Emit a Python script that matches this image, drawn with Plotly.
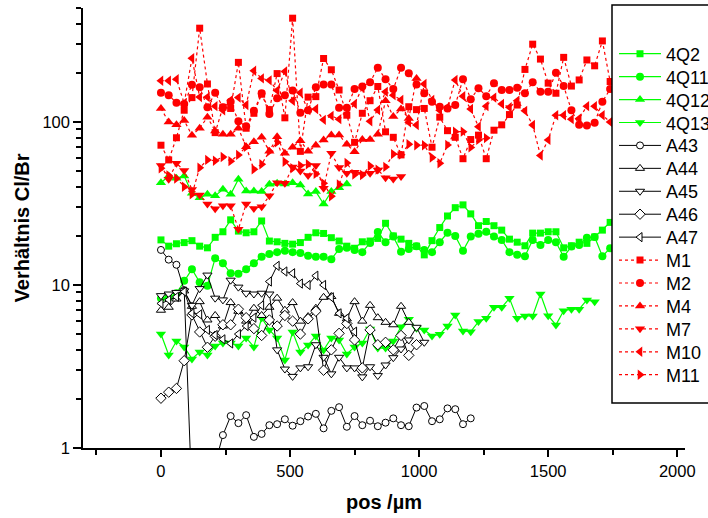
import plotly.graph_objects as go

STEP = 30  # sampling step along the profile, µm

# ---- data (ratio Cl/Br), one value per 30 µm step starting at 0 µm ----
q2 = [18.9, 17.3, 17.9, 18.2, 18.7, 17.3, 16.9, 19.6, 21.2, 25.1, 21.4, 20.9, 21.2, 24.7, 18.6,
      18.4, 18.0, 17.8, 18.2, 19.6, 20.9, 20.7, 19.5, 18.6, 17.3, 16.8, 18.4, 18.6, 19.3,
      23.9, 20.0, 19.1, 18.0, 17.3, 15.3, 18.7, 22.5, 26.5, 29.8, 31.0, 27.3, 23.1, 24.5, 23.1,
      21.7, 19.1, 18.3, 17.4, 20.8, 20.8, 21.2, 21.2, 16.9, 17.4, 18.3, 18.0, 19.7, 21.7, 24.2,
      25.0, 23.5]
q11 = [8.3, 8.4, 8.9, 10.6, 12.5, 10.4, 9.9, 14.6, 13.6, 11.8, 11.7, 12.5, 13.6, 14.9, 15.5,
       15.9, 16.2, 15.9, 15.7, 15.1, 14.9, 14.9, 14.4, 16.6, 16.9, 16.4, 15.9, 18.1, 21.1,
       18.3, 19.8, 16.0, 16.6, 17.3, 16.4, 15.9, 18.3, 20.9, 20.0, 16.2, 19.8, 20.6, 21.2, 19.8,
       18.9, 15.9, 15.3, 15.0, 18.9, 17.6, 18.9, 18.3, 14.9, 17.2, 17.6, 19.5, 19.7, 15.0, 16.8,
       20.0, 22.0]
q12 = [42.4, 46.6, 45.2, 46.6, 36.5, 34.3, 36.0, 35.2, 38.6, 36.0, 44.5, 37.7, 37.7, 37.4, 41.5,
       42.1, 41.7, 42.4, 41.1, 36.2, 37.4, 31.4, 37.4, 39.5, 41.7]
q13 = [5.0, 3.72, 4.53, 4.17, 3.52, 3.88, 3.72, 4.23, 4.41, 4.4, 4.23, 4.73, 4.17, 6.28, 5.3,
       4.73, 3.47, 5.15, 3.88, 4.28, 4.87, 3.99, 4.73, 4.6, 3.77, 4.17, 4.41, 5.37, 4.1,
       4.1, 4.53, 5.55, 6.16, 5.42, 5.3, 4.87, 4.98, 5.6, 6.55, 5.22, 5.17, 5.96, 6.24, 7.29,
       7.29, 8.28, 6.24, 6.45, 6.45, 8.81, 6.48, 5.69, 6.95, 7.1, 7.1, 8.09, 7.9]
a43 = [16.4, 14.3, 13.3, 9.3, 0.5, 0.4, 0.45, 0.8, 1.20, 1.57, 1.42, 1.59, 1.17, 1.22, 1.38,
       1.40, 1.50, 1.37, 1.46, 1.56, 1.62, 1.32, 1.69, 1.78, 1.35, 1.57, 1.38, 1.47, 1.36, 1.43,
       1.52, 1.38, 1.36, 1.77, 1.81, 1.46, 1.50, 1.75, 1.73, 1.40, 1.52]
a44 = [7.0, 7.3, 8.2, 9.2, 7.4, 7.9, 6.1, 6.5, 5.6, 7.8, 6.9, 6.0, 7.2, 6.5, 7.3, 8.3, 7.0,
       7.8, 6.0, 6.4, 7.2, 8.4, 8.5, 6.7, 6.2, 7.9, 6.0, 7.5, 6.3, 5.9, 5.7, 7.4, 5.9]
a45 = [8.6, 8.8, 9.0, 9.2, 7.5, 9.5, 11.5, 8.3, 8.1, 10.7, 9.7, 8.9, 8.8, 8.9, 8.8, 4.0, 3.05,
       2.75, 3.1, 3.15, 4.3, 3.6, 2.85, 3.6, 3.1, 3.1, 2.73, 3.15, 2.78, 3.23, 3.58, 4.05, 4.6,
       5.5, 4.45]
a46 = [2.02, 2.2, 2.32, 3.43, 6.55, 5.15, 4.15, 4.85, 5.7, 5.7, 7.1, 6.3, 5.4, 4.9, 6.1, 5.6,
       6.5, 6.0, 5.0, 6.2, 6.9, 3.0, 4.0, 5.05, 5.8, 4.6, 3.1, 5.3, 4.3, 4.45, 4.0, 4.9, 3.7, 4.3]
a47 = [7.7, 8.1, 8.45, 9.1, 6.7, 6.6, 5.3, 4.93, 4.64, 4.38, 5.0, 5.6, 6.3, 7.5, 10.5, 13.1,
       12.1, 11.8, 10.2, 10.0, 11.4, 10.0, 8.4, 6.7, 6.25, 5.17]
m1 = [72, 58.5, 80, 118, 141, 376, 171, 86, 123, 121, 232, 91.5, 113, 148, 119, 198, 106, 433,
      66, 142, 143, 245, 209, 157, 110, 75, 113, 135, 165, 87, 80.5, 62.8, 124, 119, 121, 70,
      107, 88.4, 80.5, 59.5, 78, 83, 59.5, 89, 96, 111, 127, 210, 300, 243, 173, 150, 249, 166,
      181, 240, 221, 314, 177]
m2 = [151, 146, 131, 129, 169, 163, 123, 151, 123, 133, 101, 94, 117, 150, 112, 140, 146, 156,
      114, 118, 163, 170, 170, 122, 122, 159, 165, 175, 215, 183, 159, 215, 199, 170, 150, 133,
      124, 121, 127, 183, 138, 161, 144, 173, 157, 157, 162, 150, 175, 153, 153, 200, 166, 118,
      96, 95, 99, 133, 159]
m4 = [121, 100, 96, 102, 83, 91.5, 107, 88, 84, 84, 91.5, 70.5, 75.7, 80.5, 66, 81, 64.3, 70,
      76.8, 66, 72, 77.6, 83.2, 83.2, 73, 65.7, 78, 78, 84, 135, 108, 120, 105, 185]
m7 = [54, 44.5, 55.8, 50.3, 38.5, 35.6, 31.4, 29.3, 30.6, 30.6, 22, 31.4, 29.5, 30.2, 35.3,
      42.4, 42, 53, 50, 46.9, 54, 39.2, 64.3, 52.5, 48.4, 49.1, 48, 48.4, 50.8, 45.5, 44.7, 46.2]
m10 = [179, 179, 183, 130, 246, 142, 142, 125, 118, 136, 141, 127, 206, 185, 180, 156, 204, 135,
       151, 118.5, 120, 103, 109, 104, 112, 129, 162, 101, 118.5, 153, 146, 136.5, 99.6, 95.8,
       171, 136.5, 118, 123, 181, 144, 120, 93.6, 125, 141, 129, 123, 135, 117, 95.8, 62.3,
       77.6, 110, 110, 104, 105, 125, 125, 110, 100]
m11 = [52, 47, 45, 40, 36, 52.4, 58.5, 57.8, 61, 57.5, 62.8, 70.5, 51.2, 55, 66, 75, 57, 52, 54,
       55, 48, 42, 35, 41.4, 56, 47.6, 47.3, 53.7, 51, 53, 63.5, 63, 73, 72, 72, 60.5, 55.8,
       72.3, 87.2, 87.2, 69.8, 77.6, 79.6]

names = ["4Q2", "4Q11", "4Q12", "4Q13", "A43", "A44", "A45", "A46", "A47",
         "M1", "M2", "M4", "M7", "M10", "M11"]
values = [q2, q11, q12, q13, a43, a44, a45, a46, a47, m1, m2, m4, m7, m10, m11]

x_ticks = [0, 500, 1000, 1500, 2000]
x_minor = [-250, 250, 750, 1250, 1750]
y_ticks = [1, 10, 100]
y_ticktext = ["1", "10", "100"]
y_minor = [2, 3, 4, 5, 6, 7, 8, 9, 20, 30, 40, 50, 60, 70, 80, 90, 200, 300, 400, 500]

# ---- styles ----
GREEN = "#00ff00"
RED = "#ff0000"
styles = {
    "4Q2": ("square", GREEN, "solid", 7),
    "4Q11": ("circle", GREEN, "solid", 8),
    "4Q12": ("triangle-up", GREEN, "solid", 9),
    "4Q13": ("triangle-down", GREEN, "solid", 9),
    "A43": ("circle", "open", "solid", 7),
    "A44": ("triangle-up", "open", "solid", 8),
    "A45": ("triangle-down", "open", "solid", 8),
    "A46": ("diamond", "open", "solid", 8),
    "A47": ("triangle-left", "open", "solid", 8),
    "M1": ("square", RED, "dot", 7),
    "M2": ("circle", RED, "dot", 8),
    "M4": ("triangle-up", RED, "dot", 9),
    "M7": ("triangle-down", RED, "dot", 9),
    "M10": ("triangle-left", RED, "dot", 9),
    "M11": ("triangle-right", RED, "dot", 9),
}

FONT = "Liberation Sans, Arial, sans-serif"
W, H = 708, 518
ML, MR, MT, MB = 83, 23, 8, 70
PW, PH = W - ML - MR, H - MT - MB

def px_to_paper(px, py):
    return (px - ML) / PW, (H - MB - py) / PH

fig = go.Figure()
legend_layouts = {}
for k, (name, vals) in enumerate(zip(names, values)):
    sym, col, dash, size = styles[name]
    xs = [STEP * i for i in range(len(vals))]
    lg = "legend" if k == 0 else f"legend{k + 1}"
    if col == "open":
        marker = dict(symbol=sym, size=size, color="white", line=dict(color="black", width=1))
        line = dict(color="black", width=1)
    else:
        marker = dict(symbol=sym, size=size, color=col, line=dict(width=0))
        line = dict(color=col, width=1.2, dash=dash)
    fig.add_trace(go.Scatter(x=xs, y=vals, name=name, mode="lines+markers",
                             marker=marker, line=line, legend=lg, cliponaxis=True))
    lx, ly = px_to_paper(614, 54 + k * 22.93)
    legend_layouts[lg] = dict(x=lx, xanchor="left", y=ly, yanchor="middle",
                              bgcolor="rgba(0,0,0,0)", borderwidth=0, itemwidth=42,
                              font=dict(family=FONT, size=18, color="black"))

bx0, by0 = px_to_paper(612, 403)
bx1, by1 = px_to_paper(730, 5)
fig.add_shape(type="rect", xref="paper", yref="paper", x0=bx0, x1=bx1, y0=by0, y1=by1,
              line=dict(color="black", width=1.5), fillcolor="white", layer="above")

fig.update_layout(
    width=W, height=H,
    margin=dict(l=ML, r=MR, t=MT, b=MB, autoexpand=False),
    paper_bgcolor="white", plot_bgcolor="white",
    font=dict(family=FONT, size=16.5, color="black"),
    showlegend=True,
    **legend_layouts,
)
fig.update_xaxes(
    range=[-302, 2030], showgrid=False, zeroline=False,
    showline=True, linecolor="black", linewidth=1.5,
    ticks="outside", ticklen=7, tickwidth=1.5, tickcolor="black",
    tickvals=x_ticks, tickfont=dict(family=FONT, size=16.5),
    minor=dict(tickvals=x_minor, ticks="outside", ticklen=5,
               tickwidth=1.5, tickcolor="black"),
    title=dict(text="<b>pos /µm</b>", font=dict(family=FONT, size=20), standoff=16),
)
fig.update_yaxes(
    type="log", range=[0, 2.69897], showgrid=False, zeroline=False,
    showline=True, linecolor="black", linewidth=1.5,
    ticks="outside", ticklen=8, tickwidth=1.5, tickcolor="black",
    tickvals=y_ticks, ticktext=y_ticktext, tickfont=dict(family=FONT, size=16.5),
    minor=dict(tickvals=y_minor, ticks="outside", ticklen=5, tickwidth=1.5, tickcolor="black"),
    title=dict(text="<b>Verhältnis Cl/Br</b>", font=dict(family=FONT, size=20), standoff=7),
)

fig.write_html(
    "out.html",
    config={"displayModeBar": False},
    post_script="document.body.style.margin='0';document.body.style.overflow='hidden';",
)
